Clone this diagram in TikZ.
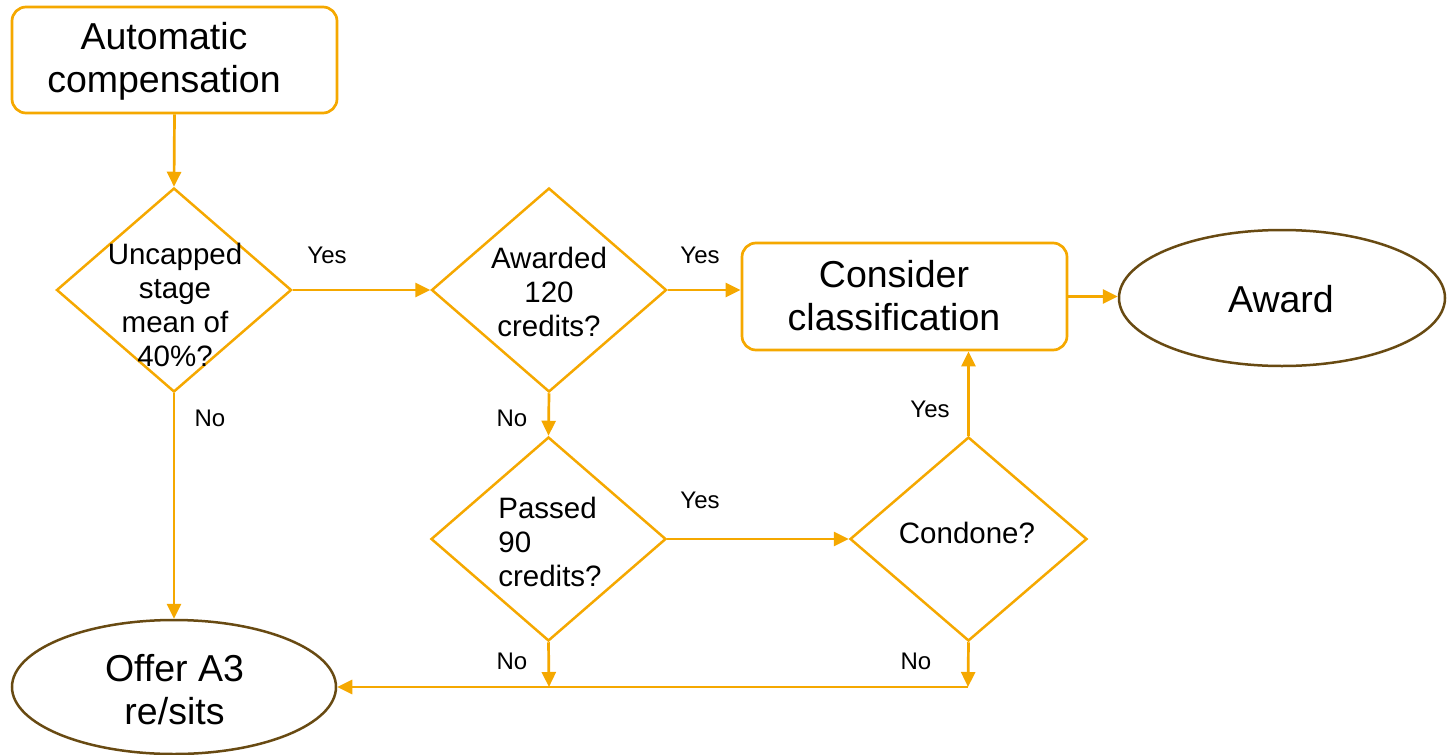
\documentclass[tikz,border=0pt]{standalone}
\usepackage{fontspec}
\setmainfont{Liberation Sans}
\usetikzlibrary{shapes.geometric,arrows.meta}
\definecolor{org}{RGB}{245,168,0}
\definecolor{brn}{RGB}{104,74,18}
\begin{document}
\begin{tikzpicture}[x=1pt,y=-1pt,
  procbox/.style={draw=org, line width=2.7pt, rounded corners=14pt, minimum width=325pt, minimum height=106pt, inner sep=0pt},
  decide/.style={draw=org, diamond, line width=2.5pt, minimum width=235pt, minimum height=204pt, inner sep=0pt},
  endell/.style={draw=brn, ellipse, line width=2.5pt, inner sep=0pt},
  bigtext/.style={font=\fontsize{37.5}{43}\selectfont, align=center, inner sep=0pt},
  dtext/.style={font=\fontsize{29.5}{33.8}\selectfont, align=center, inner sep=0pt},
  lbl/.style={font=\fontsize{24}{28}\selectfont, inner sep=0pt},
  arr/.style={draw=org, line width=2.7pt, -{Triangle[length=15pt,width=14pt]}}]
\useasboundingbox (0,0) rectangle (1449,755);

% boxes
\node[procbox] (A) at (174.5,60) {};
\node[bigtext] (At) at (164,61) {Automatic\\compensation};
\node[procbox, minimum height=107pt] (C) at (904.5,296.5) {};
\node[bigtext] (Ct) at (894,296) {Consider\\classification};

% diamonds
\node[decide] (D1) at (174,290) {};
\node[dtext] (D1t) at (175,305) {Uncapped\\stage\\mean of\\40\%?};
\node[decide] (D2) at (549,290) {};
\node[dtext] (D2t) at (549,292) {Awarded\\120\\credits?};
\node[decide] (D3) at (548.5,539) {};
\node[dtext, align=left] (D3t) at (550,542) {Passed\\90\\credits?};
\node[decide, minimum width=237pt] (D4) at (968.5,539) {};
\node[dtext] (D4t) at (967,533) {Condone?};

% ellipses
\node[endell, minimum width=326pt, minimum height=136pt] (Aw) at (1282,298) {};
\node[bigtext] (Awt) at (1281,299) {Award};
\node[endell, minimum width=324pt, minimum height=134pt] (Of) at (174,687) {};
\node[bigtext] (Oft) at (174.5,690) {Offer A3\\re/sits};

\coordinate (j1) at (549,687);
\coordinate (j2) at (968,687);

% connectors
\draw[arr] (A.south) -- (D1.north);
\draw[arr] (D1.east) -- (D2.west);
\draw[arr] (D2.east) -- (D2.east -| C.west);
\draw[arr] (C.east) -- (C.east -| Aw.west);
\draw[arr] (D1.south) -- (Of.north);
\draw[arr] (D2.south) -- (D3.north);
\draw[arr] (D3.east) -- (D4.west);
\draw[arr] (D4.north) -- (D4.north |- C.south);
\draw[arr] (D3.south) -- (j1);
\draw[arr] (D4.south) -- (j2);
\draw[arr] (j2) -- (j2 -| Of.east);

% labels
\node[lbl] (l1) at (327,255) {Yes};
\node[lbl] (l2) at (700,255) {Yes};
\node[lbl] (l3) at (210,418) {No};
\node[lbl] (l4) at (512,418) {No};
\node[lbl] (l5) at (700,500) {Yes};
\node[lbl] (l6) at (930,409) {Yes};
\node[lbl] (l7) at (512,661) {No};
\node[lbl] (l8) at (916,661) {No};
\end{tikzpicture}
\end{document}
